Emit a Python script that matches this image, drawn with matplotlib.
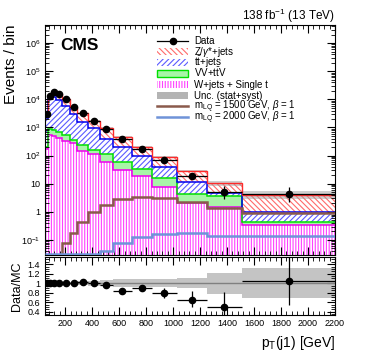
import numpy as np
import matplotlib
matplotlib.use('Agg')
import matplotlib.pyplot as plt
from matplotlib.ticker import FixedLocator, FixedFormatter, LogLocator, NullFormatter, AutoMinorLocator
from matplotlib.patches import Rectangle
from matplotlib.lines import Line2D

plt.rcParams['font.family'] = ['Liberation Sans', 'DejaVu Sans']
plt.rcParams['mathtext.fontset'] = 'custom'
plt.rcParams['mathtext.rm'] = 'Liberation Sans'
plt.rcParams['mathtext.it'] = 'Liberation Sans:italic'
plt.rcParams['mathtext.bf'] = 'Liberation Sans:bold'
plt.rcParams['hatch.linewidth'] = 0.8

# ---------------- data ----------------
bin_edges = [50, 75, 100, 135, 175, 235, 290, 370, 455, 556, 692, 841, 1026, 1249, 1512, 2200]
data = [2950, 13200, 18600, 15200, 10000, 5500, 3200, 1730, 900, 395, 175, 69, 19, 5.2, 4.2]
wjets = [165, 540, 500, 420, 340, 270, 150, 110, 60, 31, 19, 7.4, 2.0, 1.5, 0.35]
vv_ttv = [45, 360, 330, 280, 180, 90, 90, 50, 50, 29, 14, 8.2, 2.2, 2.1, 0.10]
ttbar = [1890, 10600, 11670, 8600, 5380, 2590, 1280, 770, 295, 145, 63, 24.4, 7.6, 1.0, 0.50]
zjets = [850, 1700, 6000, 5800, 4050, 2500, 1630, 780, 535, 265, 100, 47, 17.2, 5.9, 3.10]
unc_rel = [0.03, 0.02, 0.02, 0.02, 0.03, 0.03, 0.04, 0.05, 0.07, 0.08, 0.08, 0.08, 0.10, 0.22, 0.32]
lq1500 = [1e-4, 1e-4, 1e-4, 1e-4, 0.075, 0.17, 0.45, 0.95, 1.8, 2.9, 3.3, 3.0, 2.2, 1.4, 0.9]
lq2000 = [0.031, 0.031, 0.031, 0.031, 0.031, 0.031, 0.031, 0.031, 0.040, 0.076, 0.13, 0.16, 0.175, 0.14, 0.14]

main_yticks = [0.1, 1, 10, 1e2, 1e3, 1e4, 1e5, 1e6]
main_yticklabels = ['10$^{-1}$', '1', '10', '10$^{2}$', '10$^{3}$', '10$^{4}$', '10$^{5}$', '10$^{6}$']
ratio_yticks = [0.4, 0.6, 0.8, 1.0, 1.2, 1.4]
ratio_yticklabels = ['0.4', '0.6', '0.8', '1', '1.2', '1.4']
xticks = [200, 400, 600, 800, 1000, 1200, 1400, 1600, 1800, 2000, 2200]

labels = ['Data', 'Z/$\\gamma$*+jets', 't$\\bar{\\rm t}$+jets', 'VV+t$\\bar{\\rm t}$V',
          'W+jets + Single t', 'Unc. (stat+syst)',
          'm$_{\\rm LQ}$ = 1500 GeV, $\\beta$ = 1', 'm$_{\\rm LQ}$ = 2000 GeV, $\\beta$ = 1']

# ---------------- derived ----------------
edges = np.array(bin_edges, float)
centers = 0.5 * (edges[1:] + edges[:-1])
halfw = 0.5 * (edges[1:] - edges[:-1])
d = np.array(data, float)
c1 = np.array(wjets, float)
c2 = c1 + np.array(vv_ttv)
c3 = c2 + np.array(ttbar)
c4 = c3 + np.array(zjets)
u = np.array(unc_rel)
err_hi = 1 + np.sqrt(d + 0.75)
err_lo = np.sqrt(d - 0.25)

W, H = 374, 363
fig = plt.figure(figsize=(W / 100, H / 100), dpi=100)
ax = fig.add_axes([45 / W, 1 - 255 / H, 290 / W, 230 / H])
axr = fig.add_axes([45 / W, 1 - 315 / H, 290 / W, 58 / H], sharex=ax)

col_z_h, col_z = '#ff6a6a', '#ff2a2a'
col_t_h, col_t = '#5a5aff', '#0000ee'
col_v_f, col_v = '#a8f5a8', '#00e000'
col_w_h, col_w = '#ff40ff', '#ee00ee'
col_lq1 = '#8a5a4c'
col_lq2 = '#6f93d8'
hatch_z = '\\' * 6
hatch_t = '/' * 6
hatch_w = '|' * 6

base = 1e-5
ax.stairs(c1, edges, baseline=base, fill=True, facecolor='white', edgecolor=col_w_h, hatch=hatch_w, lw=0)
ax.stairs(c2, edges, baseline=c1, fill=True, facecolor=col_v_f, edgecolor=col_v_f, lw=0)
ax.stairs(c3, edges, baseline=c2, fill=True, facecolor='white', edgecolor=col_t_h, hatch=hatch_t, lw=0)
ax.stairs(c4, edges, baseline=c3, fill=True, facecolor='white', edgecolor=col_z_h, hatch=hatch_z, lw=0)
ax.stairs(c4 * (1 + u), edges, baseline=c4 * (1 - u), fill=True, facecolor='#a0a0a0', alpha=0.5, lw=0)
ax.stairs(c1, edges, baseline=None, color=col_w, lw=1.1)
ax.stairs(c2, edges, baseline=None, color=col_v, lw=1.1)
ax.stairs(c3, edges, baseline=None, color=col_t, lw=1.1)
ax.stairs(c4, edges, baseline=None, color=col_z, lw=1.0)
ax.stairs(lq1500, edges, baseline=None, color=col_lq1, lw=1.8, zorder=5)
ax.stairs(lq2000, edges, baseline=None, color=col_lq2, lw=1.8, zorder=5)
ax.errorbar(centers, d, xerr=halfw, yerr=[err_lo, err_hi], fmt='o', color='black', ms=4.5,
            elinewidth=0.9, capsize=0, zorder=6)

ax.set_yscale('log')
ax.set_ylim(0.0292, 4.4e6)
ax.set_xlim(50, 2200)
ax.yaxis.set_major_locator(FixedLocator(main_yticks))
ax.yaxis.set_major_formatter(FixedFormatter(main_yticklabels))
ax.yaxis.set_minor_locator(LogLocator(base=10, subs=np.arange(2, 10), numticks=20))
ax.yaxis.set_minor_formatter(NullFormatter())
ax.set_ylabel('Events / bin', fontsize=11, loc='top', labelpad=2)
plt.setp(ax.get_xticklabels(), visible=False)

# ratio
ratio = d / c4
axr.stairs(1 + u, edges, baseline=1 - u, fill=True, facecolor='#c4c4c4', lw=0)
axr.axhline(1.0, color='#808080', lw=1.0)
axr.errorbar(centers, ratio, xerr=halfw, yerr=[err_lo / c4, err_hi / c4], fmt='o', color='black',
             ms=4.5, elinewidth=0.9, capsize=0, zorder=6)
axr.set_ylim(0.33, 1.55)
axr.yaxis.set_major_locator(FixedLocator(ratio_yticks))
axr.yaxis.set_major_formatter(FixedFormatter(ratio_yticklabels))
axr.yaxis.set_minor_locator(AutoMinorLocator(4))
axr.xaxis.set_major_locator(FixedLocator(xticks))
axr.xaxis.set_minor_locator(AutoMinorLocator(5))
axr.set_ylabel('Data/MC', fontsize=9, labelpad=3)
axr.set_xlabel('p$_{\\rm T}$(j1) [GeV]', fontsize=10, loc='right', labelpad=4)

for a in (ax, axr):
    a.tick_params(which='both', direction='in', top=True, right=True, labelsize=6.5)
    a.tick_params(which='major', length=6, width=0.8)
    a.tick_params(which='minor', length=3, width=0.6)
    for s in a.spines.values():
        s.set_linewidth(0.8)
axr.tick_params(axis='x', pad=3)

# legend (manual, pixel layout)
def fx(px):
    return px / W

def fy(py):
    return 1 - py / H

hx0, hx1, tx = 157, 188, 194
row0, drow = 40.7, 10.9
styles = [
    ('data', None),
    ('patch', dict(facecolor='white', edgecolor=col_z_h, hatch=hatch_z, lw=0)),
    ('patch', dict(facecolor='white', edgecolor=col_t_h, hatch=hatch_t, lw=0)),
    ('patch', dict(facecolor=col_v_f, edgecolor=col_v, lw=1.0)),
    ('patch', dict(facecolor='white', edgecolor=col_w_h, hatch=hatch_w, lw=0)),
    ('patch', dict(facecolor='#b4b4b4', edgecolor='#b4b4b4', lw=0)),
    ('line', dict(color=col_lq1, lw=1.8)),
    ('line', dict(color=col_lq2, lw=1.8)),
]
for i, (lab, (kind, kw)) in enumerate(zip(labels, styles)):
    yc = row0 + i * drow
    if kind == 'data':
        fig.add_artist(Line2D([fx(hx0), fx(hx1)], [fy(yc), fy(yc)], color='black', lw=0.9,
                              transform=fig.transFigure))
        fig.add_artist(Line2D([fx(0.5 * (hx0 + hx1))], [fy(yc)], color='black', marker='o', ms=4.5,
                              transform=fig.transFigure))
    elif kind == 'patch':
        fig.add_artist(Rectangle((fx(hx0), fy(yc + 3.5)), (hx1 - hx0) / W, 7 / H,
                                 transform=fig.transFigure, **kw))
    else:
        fig.add_artist(Line2D([fx(hx0), fx(hx1)], [fy(yc), fy(yc)], transform=fig.transFigure, **kw))
    fig.text(fx(tx), fy(yc + 3.5), lab, fontsize=7, ha='left', va='baseline')

fig.text(60 / W, 1 - 50 / H, 'CMS', fontsize=12.5, fontweight='bold', ha='left', va='baseline')
fig.text(335 / W, 1 - 20 / H, '138 fb$^{-1}$ (13 TeV)', fontsize=8.5, ha='right', va='baseline')

fig.savefig('out.png', dpi=100)
